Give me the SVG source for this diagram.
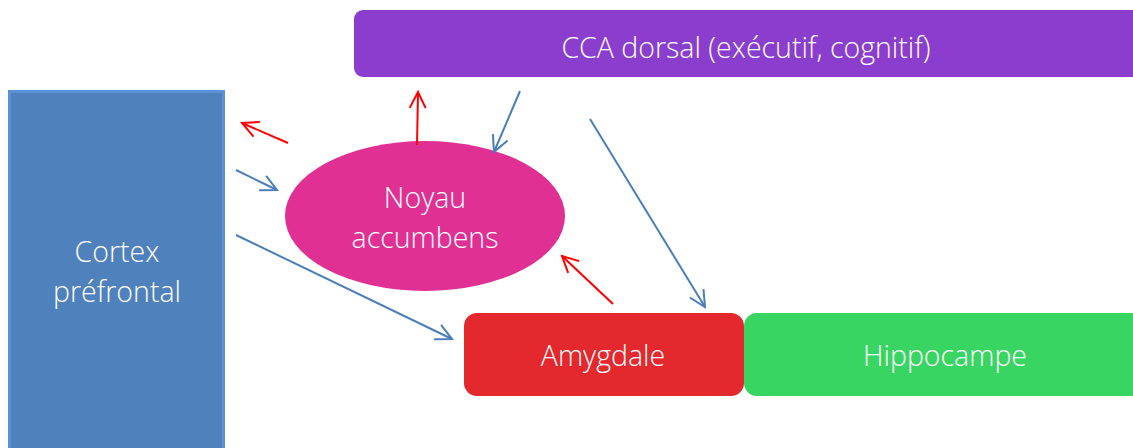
<svg xmlns="http://www.w3.org/2000/svg" width="1133" height="448" viewBox="0 0 1133 448">
<style>
text{font-family:"Open Sans","Liberation Sans",sans-serif;font-weight:300;font-size:28.5px;fill:#fff;text-anchor:middle}
.b{stroke:#4a7ebb;stroke-width:2;fill:none}
.r{stroke:#ff0000;stroke-width:2;fill:none}
</style>
<defs>
<marker id="ab" viewBox="0 0 20 20" refX="18" refY="10" markerWidth="20" markerHeight="20" markerUnits="userSpaceOnUse" orient="auto"><path d="M2,2 L18,10 L2,18" fill="none" stroke="#4a7ebb" stroke-width="2"/></marker>
<marker id="ar" viewBox="0 0 20 20" refX="18" refY="10" markerWidth="20" markerHeight="20" markerUnits="userSpaceOnUse" orient="auto"><path d="M2,2 L18,10 L2,18" fill="none" stroke="#ff0000" stroke-width="2"/></marker>
</defs>
<rect width="1133" height="448" fill="#fff"/>
<g id="cortex"><rect x="9.5" y="91.5" width="214" height="360" fill="#4f81bd" stroke="#5b91d8" stroke-width="3"/><text x="117" y="262">Cortex</text><text x="117" y="302">préfrontal</text></g>
<g id="cca"><rect x="354" y="10" width="800" height="67" rx="9" fill="#8b3dce"/><text x="746" y="58">CCA dorsal (exécutif, cognitif)</text></g>
<g id="noyau"><ellipse cx="425" cy="216" rx="140" ry="75" fill="#e03094"/><text x="425" y="208">Noyau</text><text x="425" y="248">accumbens</text></g>
<g id="amygdale"><rect x="464" y="313" width="280" height="83" rx="13" fill="#e3282e"/><text x="603" y="366">Amygdale</text></g>
<g id="hippocampe"><rect x="744" y="313" width="420" height="83" rx="13" fill="#39d563"/><text x="945" y="366">Hippocampe</text></g>
<g id="connectors">
<line class="r" x1="288" y1="143" x2="242" y2="123" marker-end="url(#ar)"/>
<line class="b" x1="236" y1="170" x2="277" y2="190" marker-end="url(#ab)"/>
<line class="b" x1="236" y1="235" x2="452" y2="339" marker-end="url(#ab)"/>
<line class="r" x1="417" y1="145" x2="418" y2="92" marker-end="url(#ar)"/>
<line class="b" x1="520" y1="91" x2="494" y2="152" marker-end="url(#ab)"/>
<line class="b" x1="590" y1="119" x2="705" y2="307" marker-end="url(#ab)"/>
<line class="r" x1="613" y1="304" x2="562" y2="256" marker-end="url(#ar)"/>
</g>
</svg>
